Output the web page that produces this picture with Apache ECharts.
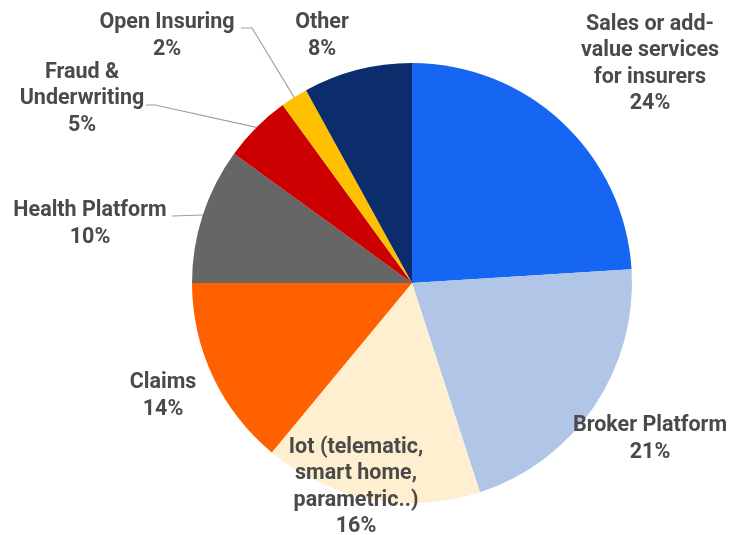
<!DOCTYPE html>
<html>
<head>
<meta charset="utf-8">
<script src="https://cdn.jsdelivr.net/npm/echarts@6/dist/echarts.min.js"></script>
<style>
  html, body { margin: 0; padding: 0; background: #fff; }
  #chart { width: 731px; height: 535px; }
</style>
</head>
<body>
<div id="chart"></div>
<script>
// Insurtech segments, share of companies (%)
const categories = [
  'Sales or add-\nvalue services\nfor insurers',
  'Broker Platform',
  'Iot (telematic,\nsmart home,\nparametric..)',
  'Claims',
  'Health Platform',
  'Fraud &\nUnderwriting',
  'Open Insuring',
  'Other'
];
const shares = [24, 21, 16, 14, 10, 5, 2, 8];
const colors = ['#1766f3', '#b1c5e7', '#fdefcf', '#ff6100', '#666666', '#cc0000', '#ffc000', '#0b2d6b'];

// Label block centres, and which labels get a leader line
const labelSpots = [
  [650, 64], [650, 439], [356, 487], [163, 396],
  [90, 224], [82, 99], [167, 36], [322, 36]
];
// Leader end points: [bend x, end x, y]
const leaders = {
  4: [172, 172, 216],
  5: [155, 146, 105],
  6: [252, 241, 28]
};

const chart = echarts.init(document.getElementById('chart'));
chart.setOption({
  animation: false,
  series: [{
    type: 'pie',
    center: [412, 283],
    radius: 220,
    startAngle: 90,
    clockwise: true,
    avoidLabelOverlap: false,
    data: categories.map((name, i) => ({
      name,
      value: shares[i],
      itemStyle: { color: colors[i] },
      labelLine: { show: i in leaders }
    })),
    label: {
      show: true,
      position: 'outside',
      formatter: '{b}\n{c}%',
      fontFamily: 'Roboto',
      fontWeight: 'bold',
      fontSize: 21.5,
      lineHeight: 26.5,
      color: '#4a4a4a',
      align: 'center'
    },
    labelLine: {
      lineStyle: { color: '#9e9e9e', width: 1.2 },
      smooth: false
    },
    labelLayout: function (params) {
      const i = params.dataIndex;
      const spot = labelSpots[i];
      const out = { x: spot[0], y: spot[1], align: 'center', verticalAlign: 'middle' };
      const l = leaders[i];
      if (l && params.labelLinePoints) {
        const start = params.labelLinePoints[0];
        out.labelLinePoints = [start, [l[0], l[2]], [l[1], l[2]]];
      }
      return out;
    }
  }]
});
</script>
</body>
</html>
